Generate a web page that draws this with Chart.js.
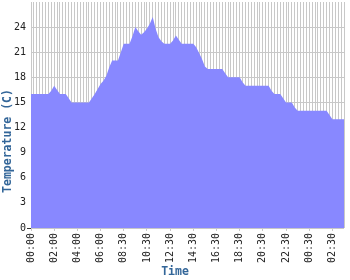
<!DOCTYPE html>
<html>
<head>
<meta charset="utf-8">
<script src="https://cdn.jsdelivr.net/npm/chart.js@4/dist/chart.umd.min.js"></script>
<style>
html,body{margin:0;padding:0;background:#fff;}
#c{display:block;}
</style>
</head>
<body>
<canvas id="c" width="350" height="280"></canvas>
<script>
// Categories: 15-minute readings (06:15 and 06:30 missing)
const timeLabels = [
  "00:00","00:15","00:30","00:45","01:00","01:15","01:30","01:45",
  "02:00","02:15","02:30","02:45","03:00","03:15","03:30","03:45",
  "04:00","04:15","04:30","04:45","05:00","05:15","05:30","05:45",
  "06:00","06:45","07:00","07:15","07:30","07:45","08:00","08:15",
  "08:30","08:45","09:00","09:15","09:30","09:45","10:00","10:15",
  "10:30","10:45","11:00","11:15","11:30","11:45","12:00","12:15",
  "12:30","12:45","13:00","13:15","13:30","13:45","14:00","14:15",
  "14:30","14:45","15:00","15:15","15:30","15:45","16:00","16:15",
  "16:30","16:45","17:00","17:15","17:30","17:45","18:00","18:15",
  "18:30","18:45","19:00","19:15","19:30","19:45","20:00","20:15",
  "20:30","20:45","21:00","21:15","21:30","21:45","22:00","22:15",
  "22:30","22:45","23:00","23:15","23:30","23:45","00:00","00:15",
  "00:30","00:45","01:00","01:15","01:30","01:45","02:00","02:15",
  "02:30","02:45","03:00","03:15","03:30"
];

// Temperature values (C)
const temperature = [
  16,16,16,16,16,16,16,16.4,
  17,16.5,16,16,16,15.5,15,15,
  15,15,15,15,15,15.5,16,16.6,
  17.2,17.6,18.2,19.2,20,20,20,21,
  22,22,22,22.9,24,23.5,23.1,23.4,
  23.8,24.4,25.2,23.8,22.8,22.3,22,22,
  22,22.4,23,22.5,22,22,22,22,
  22,21.6,20.9,20.2,19.3,19,19,19,
  19,19,19,18.5,18,18,18,18,
  18,17.4,17,17,17,17,17,17,
  17,17,17,16.4,16,16,16,15.5,
  15,15,15,14.4,14,14,14,14,
  14,14,14,14,14,14,14,13.5,
  13,13,13,13,13
];

// Y tick labels
const yTicks = [0,3,6,9,12,15,18,21,24];
const yMax = 27;
const labelEvery = 8;

const xTitle = "Time";
const yTitle = "Temperature (C)";

const titleColor = "#336699";
const gridColor = "#c8c8c8";
const tickFont = {family: "DejaVu Sans Mono", size: 10};

const titlePlugin = {
  id: "axisTitles",
  afterDraw(chart) {
    const ctx = chart.ctx;
    ctx.save();
    ctx.fillStyle = titleColor;
    ctx.font = "bold 11.5px 'DejaVu Sans Mono'";
    ctx.textAlign = "center";
    ctx.textBaseline = "middle";
    ctx.fillText(xTitle, 175, 272);
    ctx.translate(8, 141);
    ctx.rotate(-Math.PI / 2);
    ctx.fillText(yTitle, 0, 0);
    ctx.restore();
  }
};

new Chart(document.getElementById("c"), {
  type: "line",
  data: {
    labels: timeLabels,
    datasets: [{
      data: temperature,
      fill: "origin",
      backgroundColor: "#8888ff",
      borderColor: "rgba(0,0,0,0)",
      borderWidth: 0,
      pointRadius: 0,
      tension: 0
    }]
  },
  options: {
    responsive: false,
    animation: false,
    devicePixelRatio: 1,
    layout: {padding: {top: 2, right: 6, left: 0, bottom: 0}},
    plugins: {legend: {display: false}, tooltip: {enabled: false}},
    scales: {
      x: {
        type: "category",
        offset: false,
        border: {display: false},
        grid: {
          color: gridColor,
          lineWidth: 1,
          drawTicks: true,
          tickLength: 3,
          tickColor: (c) => (c.index % labelEvery === 0 ? gridColor : "rgba(0,0,0,0)")
        },
        ticks: {
          autoSkip: false,
          maxRotation: 90,
          minRotation: 90,
          padding: 2,
          font: tickFont,
          color: "#222",
          callback: (v, i) => (i % labelEvery === 0 ? timeLabels[i] : "")
        },
        afterFit: (s) => { s.height = 52; s.paddingLeft = 0; s.paddingRight = 0; }
      },
      y: {
        min: 0,
        max: yMax,
        border: {display: false},
        afterBuildTicks: (s) => { s.ticks = yTicks.concat([yMax]).map(v => ({value: v})); },
        grid: {
          color: (c) => (c.tick && c.tick.value === yMax ? "rgba(0,0,0,0)" : gridColor),
          drawTicks: true,
          tickLength: 4,
          tickColor: (c) => (c.tick && c.tick.value === 0 ? "#333" : "rgba(0,0,0,0)")
        },
        ticks: {
          padding: 1,
          font: tickFont,
          color: "#222",
          callback: (v) => (yTicks.includes(v) ? String(v) : "")
        },
        afterFit: (s) => { s.width = 31; s.paddingTop = 0; s.paddingBottom = 0; }
      }
    }
  },
  plugins: [titlePlugin]
});
</script>
</body>
</html>
